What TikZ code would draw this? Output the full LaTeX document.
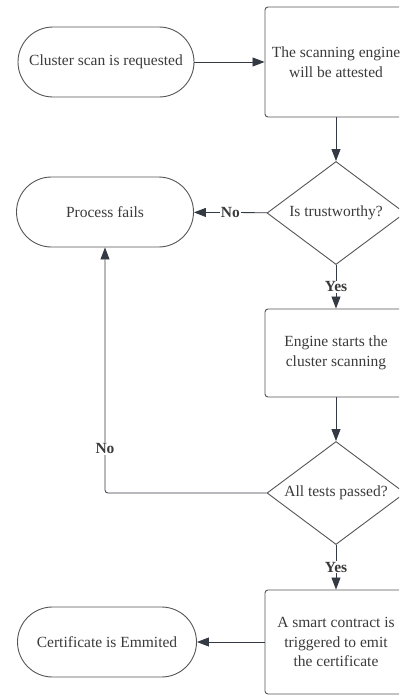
\documentclass[tikz,border=0pt]{standalone}
\usepackage{fontspec}
\setmainfont{Liberation Serif}
\usetikzlibrary{shapes.geometric,arrows.meta}
\definecolor{linegray}{HTML}{555555}
\definecolor{arrowgray}{HTML}{343A44}
\definecolor{textgray}{HTML}{3A3A3A}

\begin{document}
\begin{tikzpicture}[x=1pt,y=-1pt,
    font=\fontsize{15.5}{19.5}\selectfont, text=textgray,
    terminal/.style={draw=linegray, line width=0.9pt, rectangle, rounded corners=35pt, minimum height=70pt},
    process/.style={draw=linegray, line width=0.9pt, rectangle, rounded corners=3pt, minimum width=142pt, align=center},
    decision/.style={draw=linegray, line width=0.9pt, diamond, shape aspect=1.34, inner sep=0pt, minimum width=138pt, minimum height=103pt},
    arrow/.style={draw=arrowgray, line width=0.8pt, -{Triangle[length=12pt,width=9pt]}},
    answer/.style={fill=white, inner sep=1pt, font=\fontsize{15.5}{19.5}\selectfont\bfseries}]
    \useasboundingbox (0,0) rectangle (399,696);
    \clip (0,0) rectangle (399,696);
    % left column
    \node[terminal, minimum width=176pt] (start) at (106,62) {Cluster scan is requested};
    \node[terminal, minimum width=177pt] (fail) at (105,212) {Process fails};
    \node[terminal, minimum width=179pt] (cert) at (107,642) {Certificate is Emmited};
    % right column
    \node[process, minimum height=110pt] (attest) at (336,62) {The scanning engine\\will be attested};
    \node[decision] (trust) at (336,213) {Is trustworthy?};
    \node[process, minimum height=88pt] (scan) at (336,353) {Engine starts the\\cluster scanning};
    \node[decision] (passed) at (336,493) {All tests passed?};
    \node[process, minimum height=104pt] (contract) at (336,642) {A smart contract is\\triggered to emit\\the certificate};
    % connectors
    \foreach \a/\b in {start/attest, attest/trust, scan/passed, contract/cert}
      \draw[arrow] (\a) -- (\b);
    \draw[arrow] (trust) -- node[answer] {No} (fail);
    \draw[arrow] (trust) -- node[answer] {Yes} (scan);
    \draw[arrow] (passed) -- node[answer] {Yes} (contract);
    \draw[arrow, rounded corners=3pt] (passed.west) -| node[answer, pos=0.59] {No} (fail.south);
  \end{tikzpicture}
\end{document}
